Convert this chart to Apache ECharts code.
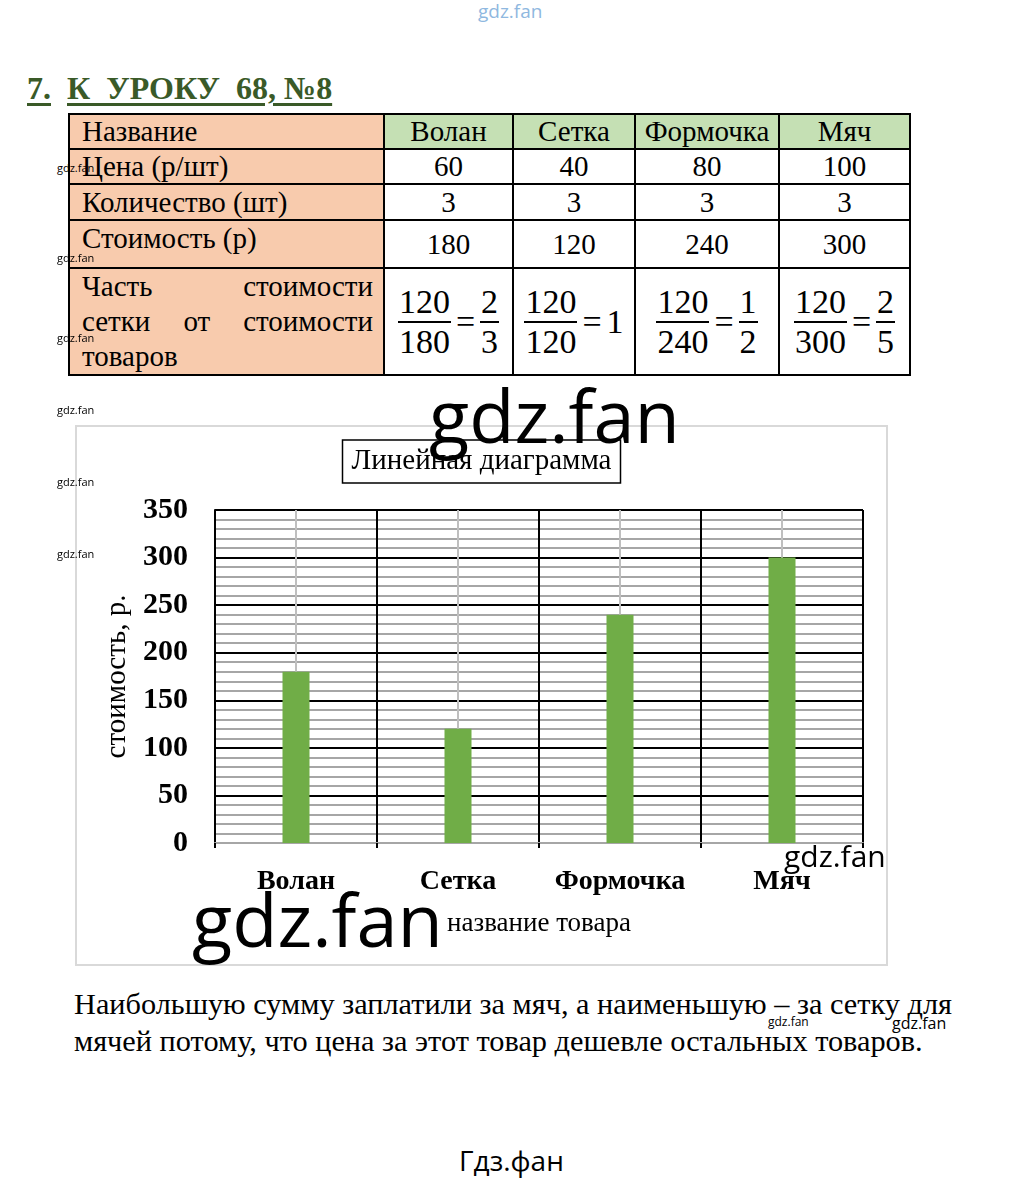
<!DOCTYPE html>
<html><head><meta charset="utf-8">
<script src="https://cdn.jsdelivr.net/npm/echarts@6/dist/echarts.min.js"></script>
<style>
html,body{margin:0;padding:0;background:#fff;}
body{width:1019px;height:1181px;position:relative;overflow:hidden;font-family:'Liberation Serif',serif;color:#000;}
.abs{position:absolute;}
#head{left:27px;top:70px;font-size:32px;font-weight:bold;color:#3a5a28;white-space:nowrap;}
#head span{text-decoration:underline;text-decoration-thickness:3px;text-underline-offset:4px;}
table{position:absolute;left:68px;top:113px;border-collapse:collapse;font-size:29px;}
td{border:2px solid #000;padding:0;line-height:1.05;}
td.lab{background:#f8cbad;padding-left:12px;padding-right:10px;}
td.hd{background:#c5e0b4;text-align:center;}
td.v{text-align:center;}
.fr{display:inline-flex;align-items:center;font-size:34px;line-height:1.1;}
.f{display:inline-flex;flex-direction:column;align-items:center;}
.f .n{border-bottom:2px solid #000;padding:0 1px;}
.eq{margin:0 5px;}
#chart{left:75px;top:425px;width:809px;height:537px;border:2px solid #d9d9d9;}
.wm{position:absolute;font-family:'Open Sans',sans-serif;color:#000;white-space:nowrap;line-height:1;}
#para{left:74px;top:986px;font-size:30.3px;line-height:37px;white-space:nowrap;}
</style></head>
<body>
<div id="wtop" class="wm" style="left:478px;top:2px;font-size:19px;color:#8fb8e0;">gdz.fan</div>
<div id="head" class="abs"><span>7.</span>&nbsp;&nbsp;<span>К&nbsp;&nbsp;УРОКУ&nbsp;&nbsp;68,&nbsp;№8</span></div>
<table id="tbl"></table>
<div id="chart" class="abs"></div>
<div id="para" class="abs"></div>
<div class="wm" style="left:57px;top:162px;font-size:11px;">gdz.fan</div>
<div class="wm" style="left:57px;top:252px;font-size:11px;">gdz.fan</div>
<div class="wm" style="left:57px;top:332px;font-size:11px;">gdz.fan</div>
<div class="wm" style="left:57px;top:404px;font-size:11px;">gdz.fan</div>
<div class="wm" style="left:57px;top:476px;font-size:11px;">gdz.fan</div>
<div class="wm" style="left:57px;top:548px;font-size:11px;">gdz.fan</div>
<div class="wm" style="left:429px;top:378px;font-size:74px;">gdz.fan</div>
<div class="wm" style="left:192px;top:882px;font-size:74px;">gdz.fan</div>
<div class="wm" style="left:784px;top:841px;font-size:30px;">gdz.fan</div>
<div class="wm" style="left:768px;top:1016px;font-size:12px;">gdz.fan</div>
<div class="wm" style="left:892px;top:1015px;font-size:16px;">gdz.fan</div>
<div class="wm" style="left:459px;top:1146px;font-size:28px;">Гдз.фан</div>
<script>
// ---- data ----
const categories = ['Волан', 'Сетка', 'Формочка', 'Мяч'];
const prices = [60, 40, 80, 100];
const quantities = [3, 3, 3, 3];
const costs = [180, 120, 240, 300];
const netCost = 120;
const fractionResults = [['2','3'], ['1'], ['1','2'], ['2','5']];
const rowLabels = ['Название', 'Цена (р/шт)', 'Количество (шт)', 'Стоимость (р)'];
const yTicks = [0, 50, 100, 150, 200, 250, 300, 350];
const chartTitle = 'Линейная диаграмма';
const yName = 'стоимость, р.';
const xName = 'название товара';
const paragraph = ['Наибольшую сумму заплатили за мяч, а наименьшую – за сетку для',
                   'мячей потому, что цена за этот товар дешевле остальных товаров.'];

// ---- table ----
const colW = [315, 129, 122, 144, 131];
const rowH = [35, 35, 36, 48, 106];
let html = '<colgroup>' + colW.map(w => '<col style="width:' + w + 'px">').join('') + '</colgroup>';
html += '<tr style="height:' + rowH[0] + 'px"><td class="lab">' + rowLabels[0] + '</td>' +
  categories.map(c => '<td class="hd">' + c + '</td>').join('') + '</tr>';
[prices, quantities, costs].forEach((arr, i) => {
  html += '<tr style="height:' + rowH[i+1] + 'px"><td class="lab"' + (i===2?' style="vertical-align:top;padding-top:2px"':'') + '>' + rowLabels[i+1] + '</td>' +
    arr.map(v => '<td class="v">' + v + '</td>').join('') + '</tr>';
});
html += '<tr style="height:' + rowH[4] + 'px"><td class="lab" style="text-align:justify;text-align-last:justify;line-height:35px;vertical-align:top;padding-top:0px">' +
  'Часть&nbsp;стоимости<br>сетки от стоимости<br><span style="display:inline-block;text-align-last:left">товаров</span></td>' +
  costs.map((c, i) => {
    const r = fractionResults[i];
    const rhs = r.length === 2 ? '<span class="f"><span class="n">' + r[0] + '</span><span>' + r[1] + '</span></span>' : '<span>' + r[0] + '</span>';
    return '<td class="v"><span class="fr"><span class="f"><span class="n">' + netCost + '</span><span>' + c + '</span></span><span class="eq">=</span>' + rhs + '</span></td>';
  }).join('') + '</tr>';
document.getElementById('tbl').innerHTML = html;
document.getElementById('para').innerHTML = paragraph.join('<br>');

// ---- chart ----
const chart = echarts.init(document.getElementById('chart'), null, {renderer: 'canvas'});
const serif = 'Liberation Serif';
chart.setOption({
  animation: false,
  title: {
    text: chartTitle, left: 'center', top: 13,
    borderColor: '#000', borderWidth: 1.5, padding: [7, 9, 7, 9],
    textStyle: {fontFamily: serif, fontSize: 29, fontWeight: 'normal', color: '#000'}
  },
  grid: {left: 138, top: 83, right: 23, bottom: 121},
  xAxis: {
    type: 'category', data: categories,
    axisLine: {show: true, lineStyle: {color: '#a6a6a6', width: 2}},
    axisTick: {show: true, interval: 0, length: 5, lineStyle: {color: '#000', width: 2}},
    splitLine: {show: true, interval: 0, lineStyle: {color: '#000', width: 2}},
    axisLabel: {interval: 0, fontFamily: serif, fontSize: 28, fontWeight: 'bold', color: '#000', margin: 25},
    name: xName, nameLocation: 'middle', nameGap: 67,
    nameTextStyle: {fontFamily: serif, fontSize: 27, color: '#000'}
  },
  yAxis: {
    type: 'value', min: yTicks[0], max: yTicks[yTicks.length-1], interval: yTicks[1] - yTicks[0],
    axisLine: {show: true, lineStyle: {color: '#000', width: 2}},
    axisTick: {show: false},
    axisLabel: {fontFamily: serif, fontSize: 30, fontWeight: 'bold', color: '#000', margin: 27},
    splitLine: {show: true, lineStyle: {color: '#000', width: 2}},
    minorTick: {show: false, splitNumber: 5},
    minorSplitLine: {show: true, lineStyle: {color: '#a6a6a6', width: 2}},
    name: yName, nameLocation: 'middle', nameRotate: 90, nameGap: 75,
    nameTextStyle: {fontFamily: serif, fontSize: 29, color: '#000'}
  },
  series: [{
    type: 'bar', data: costs, barWidth: 27, z: 3,
    itemStyle: {color: '#70ad47'},
    markLine: {
      silent: true, symbol: 'none', z: 2,
      label: {show: false},
      lineStyle: {color: '#bfbfbf', width: 2, type: 'solid'},
      data: categories.map(c => ({xAxis: c}))
    }
  }]
});
</script>
</body></html>
